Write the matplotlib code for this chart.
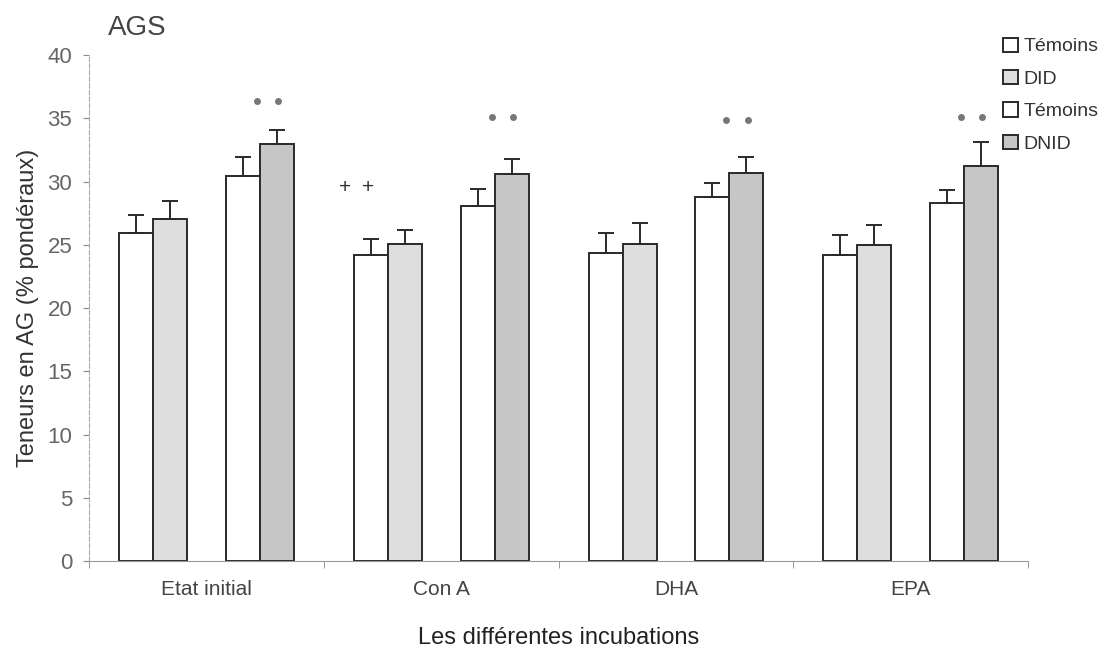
import numpy as np
import matplotlib

matplotlib.use('Agg')
import matplotlib.pyplot as plt

# Données
categories = ['Etat initial', 'Con A', 'DHA', 'EPA']
series_labels = ['Témoins', 'DID', 'Témoins', 'DNID']
temoins_did = [25.9, 24.2, 24.35, 24.2]
did = [27.0, 25.05, 25.1, 25.0]
temoins_dnid = [30.4, 28.1, 28.8, 28.3]
dnid = [33.0, 30.6, 30.7, 31.2]
err_temoins_did = [1.45, 1.25, 1.55, 1.6]
err_did = [1.45, 1.1, 1.6, 1.6]
err_temoins_dnid = [1.5, 1.3, 1.1, 1.0]
err_dnid = [1.1, 1.2, 1.2, 1.9]
etoiles_y = [36.4, 35.1, 34.9, 35.1]
plus_y = [None, 29.5, None, None]

plt.rcParams['font.family'] = ['Liberation Sans', 'DejaVu Sans']

fig = plt.figure(figsize=(11.08, 6.56), dpi=100)
ax = fig.add_axes([0.0803, 0.1448, 0.8477, 0.7713])

x = np.arange(len(categories)) + 0.5
largeur = 0.145
decalages = [-0.30, -0.155, 0.155, 0.30]
valeurs = [temoins_did, did, temoins_dnid, dnid]
erreurs = [err_temoins_did, err_did, err_temoins_dnid, err_dnid]
couleurs = ['white', '#dedede', 'white', '#c6c6c6']

for i in range(4):
    ax.bar(x + decalages[i], valeurs[i], width=largeur, color=couleurs[i],
           edgecolor='#2a2a2a', linewidth=1.4, label=series_labels[i], zorder=2)
    ax.errorbar(x + decalages[i], valeurs[i], yerr=[np.zeros(4), erreurs[i]],
                fmt='none', ecolor='#2a2a2a', elinewidth=1.4, capsize=6,
                capthick=1.4, zorder=3)

# symboles de signification
for k in range(4):
    cx = x[k] + decalages[3] - 0.04
    ax.plot([cx - 0.045, cx + 0.045], [etoiles_y[k]] * 2, 'o', ms=4,
            color='#777777', zorder=3)
    if plus_y[k] is not None:
        px = x[k] + decalages[0] - 0.06
        for dx in (-0.05, 0.05):
            ax.text(px + dx, plus_y[k], '+', ha='center', va='center',
                    fontsize=15, color='#333333')

ax.set_xlim(0, 4)
ax.set_ylim(0, 40)
ax.set_yticks(range(0, 41, 5))
ax.set_xticks(x)
ax.set_xticklabels(categories)
ax.set_xticks(range(0, 5), minor=True)
ax.tick_params(axis='x', which='major', length=0, pad=14, labelsize=15,
               labelcolor='#444444')
ax.tick_params(axis='x', which='minor', length=5, color='#888888')
ax.tick_params(axis='y', length=4, color='#888888', labelsize=16,
               labelcolor='#666666', pad=8)

for s in ['top', 'right']:
    ax.spines[s].set_visible(False)
ax.spines['left'].set_color('#aaaaaa')
ax.spines['left'].set_linestyle((0, (4, 2)))
ax.spines['bottom'].set_color('#999999')

ax.set_ylabel('Teneurs en AG (% pondéraux)', fontsize=17, color='#333333',
              labelpad=6)
ax.set_xlabel('Les différentes incubations', fontsize=17, color='#222222',
              labelpad=20)
fig.text(0.097, 0.957, 'AGS', fontsize=20, color='#444444', va='center')

leg = ax.legend(loc='upper left', bbox_to_anchor=(0.965, 1.05), frameon=False,
                fontsize=14, handlelength=0.75, handleheight=0.75,
                handletextpad=0.3, labelspacing=0.75, borderaxespad=0)
for t in leg.get_texts():
    t.set_color('#333333')

fig.savefig('out.png', dpi=100)
